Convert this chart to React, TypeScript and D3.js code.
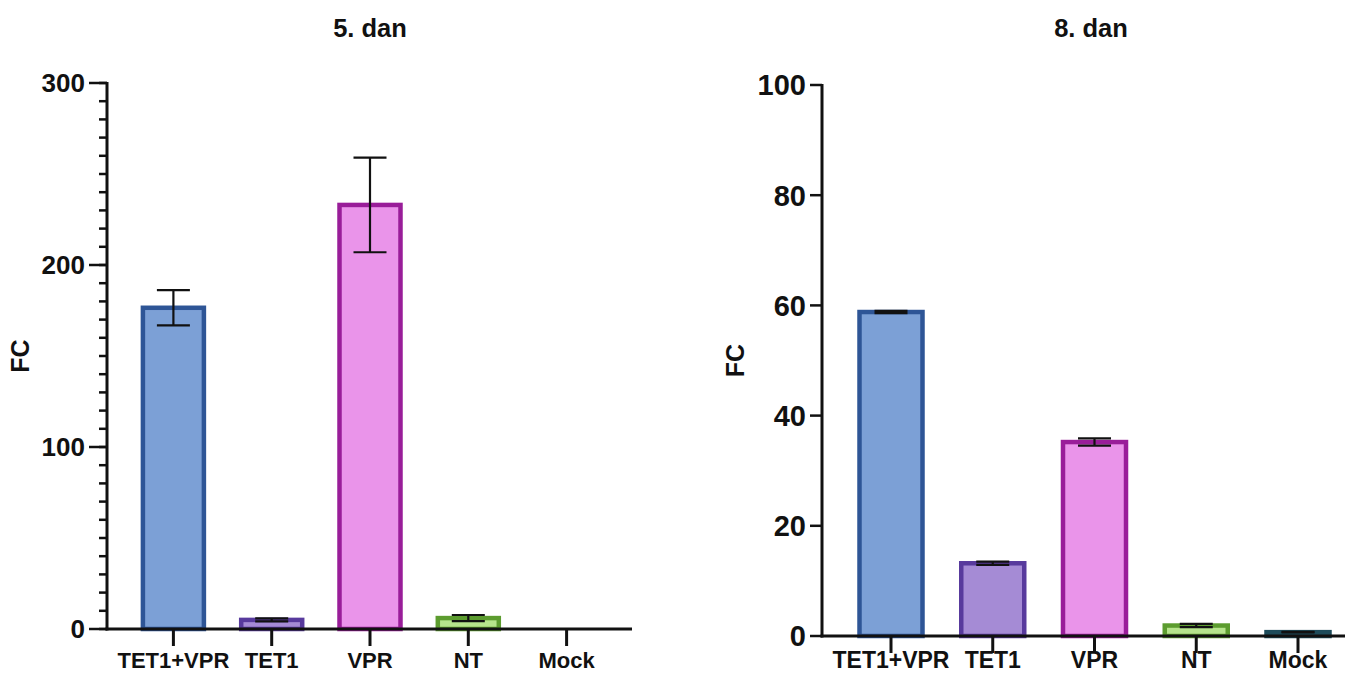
import React from "react";
import * as d3 from "d3";

const categories = ["TET1+VPR", "TET1", "VPR", "NT", "Mock"];
const day5Means = [176.5, 5, 233, 6, 0];
const day5Sd = [9.7, 0.8, 26, 1.7, 0];
const day8Means = [58.8, 13.2, 35.2, 1.9, 0.7];
const day8Sd = [0.2, 0.3, 0.65, 0.3, 0.05];
const day5Ticks = [0, 100, 200, 300];
const day8Ticks = [0, 20, 40, 60, 80, 100];
const fills = ["#7ca0d6", "#a58bd5", "#ea94ea", "#b6e48c", "#2f6b7c"];
const strokes = ["#2e5596", "#583a9d", "#991d99", "#5c9c2f", "#1d4b5a"];

type PanelProps = {
  title: string;
  means: number[];
  sds: number[];
  yMax: number;
  ticks: number[];
  minorStep: number | null;
  x0: number;
  x1: number;
  yTop: number;
  yBottom: number;
  firstCenter: number;
  lastCenter: number;
  barWidth: number;
  titleX: number;
  labelX: number;
  tickFont: number;
  catFont: number;
  catOffset: number;
  majorLen: number;
};

function Panel(p: PanelProps) {
  const y = d3.scaleLinear().domain([0, p.yMax]).range([p.yBottom, p.yTop]);
  const x = d3.scalePoint<string>().domain(categories).range([p.firstCenter, p.lastCenter]);
  const minor = p.minorStep ? d3.range(0, p.yMax + 0.001, p.minorStep) : [];
  const font = "'Liberation Sans', Arial, sans-serif";
  const capHalf = 16.5;
  return (
    <g fontFamily={font} fontWeight="bold" fill="#111">
      <text x={p.titleX} y={37} textAnchor="middle" fontSize={25.5}>{p.title}</text>
      <text transform={`translate(${p.labelX},${(p.yTop + p.yBottom) / 2}) rotate(-90)`} textAnchor="middle" fontSize={25}>FC</text>
      {categories.map((c, i) => {
        const cx = x(c)!;
        const v = p.means[i];
        const top = y(v);
        const h = p.yBottom - top;
        return (
          <g key={c}>
            {h > 0 && (
              <rect x={cx - p.barWidth / 2} y={top} width={p.barWidth} height={h} fill={fills[i]} stroke={strokes[i]} strokeWidth={4.5} />
            )}
          </g>
        );
      })}
      {categories.map((c, i) => {
        const cx = x(c)!;
        const sd = p.sds[i];
        if (sd <= 0) return null;
        const hi = y(p.means[i] + sd);
        const lo = y(Math.max(0, p.means[i] - sd));
        return (
          <g key={"e" + c} stroke="#111" strokeWidth={2.2}>
            <line x1={cx} x2={cx} y1={hi} y2={lo} />
            <line x1={cx - capHalf} x2={cx + capHalf} y1={hi} y2={hi} />
            <line x1={cx - capHalf} x2={cx + capHalf} y1={lo} y2={lo} />
          </g>
        );
      })}
      {/* y axis */}
      <line x1={p.x0} x2={p.x0} y1={p.yTop - 1} y2={p.yBottom + 1.5} stroke="#111" strokeWidth={3} />
      {minor.map((m) => (
        <line key={"m" + m} x1={p.x0 - 8} x2={p.x0} y1={y(m)} y2={y(m)} stroke="#111" strokeWidth={2.5} />
      ))}
      {p.ticks.map((t) => (
        <g key={"t" + t}>
          <line x1={p.x0 - p.majorLen} x2={p.x0} y1={y(t)} y2={y(t)} stroke="#111" strokeWidth={2.5} />
          <text x={p.x0 - p.majorLen - 4} y={y(t)} dy="0.36em" textAnchor="end" fontSize={p.tickFont}>{t}</text>
        </g>
      ))}
      {/* x axis */}
      <line x1={p.x0 - 1.5} x2={p.x1} y1={p.yBottom} y2={p.yBottom} stroke="#111" strokeWidth={3} />
      {categories.map((c) => (
        <g key={"x" + c}>
          <line x1={x(c)!} x2={x(c)!} y1={p.yBottom} y2={p.yBottom + 17} stroke="#111" strokeWidth={3} />
          <text x={x(c)!} y={p.yBottom + p.catOffset} textAnchor="middle" fontSize={p.catFont}>{c}</text>
        </g>
      ))}
    </g>
  );
}

export default function App() {
  return (
    <svg width={1366} height={674} style={{ position: "absolute", left: 0, top: 0, background: "#fff" }}>
      <Panel
        title="5. dan"
        means={day5Means}
        sds={day5Sd}
        yMax={300}
        ticks={day5Ticks}
        minorStep={10}
        x0={107}
        x1={632}
        yTop={83}
        yBottom={629}
        firstCenter={173.4}
        lastCenter={566.6}
        barWidth={61}
        titleX={370}
        labelX={29}
        tickFont={26}
        catFont={22}
        catOffset={39}
        majorLen={18}
      />
      <Panel
        title="8. dan"
        means={day8Means}
        sds={day8Sd}
        yMax={100}
        ticks={day8Ticks}
        minorStep={null}
        x0={822}
        x1={1345}
        yTop={85}
        yBottom={636}
        firstCenter={891}
        lastCenter={1298}
        barWidth={63}
        titleX={1091}
        labelX={744}
        tickFont={29}
        catFont={23}
        catOffset={32}
        majorLen={12}
      />
    </svg>
  );
}
